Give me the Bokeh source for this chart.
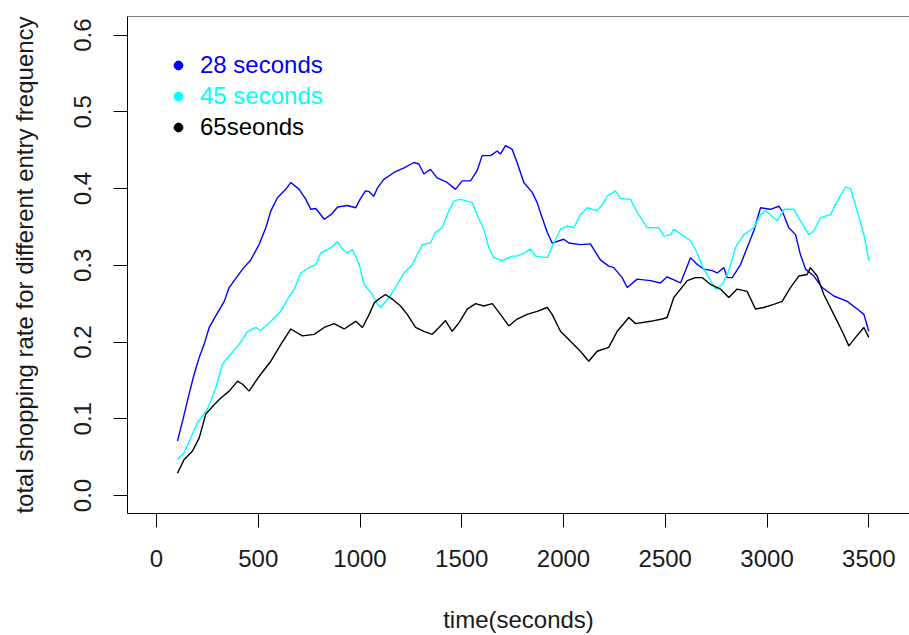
from bokeh.plotting import figure
from bokeh.models import (Range1d, FixedTicker, PrintfTickFormatter, Legend, LegendItem, Span,
                          ColumnDataSource)
from bokeh.embed import file_html
from bokeh.resources import INLINE

# ---- data ----
x_ticks = [0, 500, 1000, 1500, 2000, 2500, 3000, 3500]
y_ticks = [0.0, 0.1, 0.2, 0.3, 0.4, 0.5, 0.6]

legend_labels = ["28 seconds", "45 seconds", "65seonds"]
colors = ["#0000FF", "#00FFFF", "#000000"]

t28 = [103, 128, 160, 185, 210, 234, 259, 291, 333, 357, 382, 423, 463, 504, 537, 562, 594, 635, 660,
       701, 734, 758, 783, 824, 857, 890, 938, 979, 1000, 1027, 1045, 1068, 1086, 1117, 1167, 1216,
       1265, 1289, 1314, 1346, 1379, 1428, 1469, 1502, 1543, 1575, 1600, 1641, 1674, 1690, 1715, 1748,
       1772, 1805, 1846, 1870, 1895, 1920, 1944, 2001, 2026, 2083, 2132, 2181, 2222, 2247, 2288, 2313,
       2362, 2427, 2476, 2509, 2575, 2599, 2624, 2657, 2690, 2731, 2755, 2788, 2804, 2829, 2870, 2902,
       2935, 2968, 3017, 3058, 3074, 3107, 3140, 3164, 3189, 3230, 3271, 3328, 3394, 3443, 3476, 3500]
v28 = [0.071, 0.097, 0.132, 0.158, 0.180, 0.197, 0.219, 0.234, 0.253, 0.271, 0.280, 0.295, 0.307, 0.327,
       0.349, 0.371, 0.388, 0.399, 0.408, 0.399, 0.386, 0.373, 0.374, 0.360, 0.366, 0.376, 0.378, 0.375,
       0.386, 0.397, 0.396, 0.390, 0.401, 0.412, 0.421, 0.427, 0.434, 0.432, 0.419, 0.425, 0.414, 0.408,
       0.399, 0.410, 0.410, 0.423, 0.443, 0.443, 0.449, 0.445, 0.456, 0.451, 0.434, 0.408, 0.395, 0.382,
       0.362, 0.343, 0.329, 0.334, 0.329, 0.327, 0.328, 0.307, 0.299, 0.297, 0.284, 0.271, 0.282, 0.280,
       0.277, 0.285, 0.277, 0.293, 0.310, 0.301, 0.295, 0.293, 0.290, 0.297, 0.284, 0.284, 0.301, 0.323,
       0.345, 0.375, 0.373, 0.377, 0.371, 0.349, 0.340, 0.314, 0.295, 0.286, 0.271, 0.260, 0.253, 0.243,
       0.236, 0.214]

t45 = [103, 136, 168, 201, 250, 291, 324, 365, 406, 447, 488, 512, 562, 611, 644, 677, 709, 750, 783,
       807, 857, 889, 914, 938, 963, 996, 1020, 1061, 1086, 1101, 1142, 1174, 1216, 1257, 1306, 1346,
       1371, 1404, 1428, 1461, 1494, 1551, 1575, 1608, 1633, 1657, 1698, 1748, 1772, 1805, 1838, 1862,
       1920, 1952, 1985, 2018, 2051, 2083, 2116, 2165, 2198, 2214, 2255, 2280, 2329, 2362, 2411, 2468,
       2493, 2526, 2542, 2591, 2624, 2657, 2681, 2714, 2747, 2780, 2812, 2845, 2886, 2935, 2968, 2993,
       3050, 3083, 3132, 3164, 3205, 3230, 3263, 3312, 3345, 3386, 3410, 3443, 3476, 3500]
v45 = [0.047, 0.056, 0.075, 0.095, 0.112, 0.140, 0.171, 0.184, 0.197, 0.214, 0.219, 0.215, 0.227, 0.240,
       0.256, 0.269, 0.290, 0.297, 0.301, 0.316, 0.323, 0.331, 0.321, 0.316, 0.321, 0.301, 0.275, 0.262,
       0.249, 0.245, 0.258, 0.271, 0.290, 0.301, 0.327, 0.329, 0.343, 0.349, 0.366, 0.384, 0.386, 0.382,
       0.366, 0.347, 0.323, 0.310, 0.306, 0.312, 0.312, 0.316, 0.321, 0.312, 0.310, 0.329, 0.347, 0.351,
       0.349, 0.366, 0.375, 0.371, 0.382, 0.390, 0.397, 0.387, 0.386, 0.369, 0.349, 0.349, 0.338, 0.340,
       0.347, 0.338, 0.332, 0.316, 0.299, 0.284, 0.269, 0.275, 0.293, 0.323, 0.340, 0.349, 0.366, 0.371,
       0.358, 0.373, 0.373, 0.358, 0.340, 0.345, 0.362, 0.366, 0.384, 0.402, 0.400, 0.371, 0.340, 0.306]

t65 = [103, 136, 177, 210, 242, 275, 316, 357, 398, 423, 455, 488, 512, 562, 611, 660, 717, 775, 824,
       873, 922, 979, 1012, 1045, 1070, 1092, 1125, 1158, 1199, 1232, 1273, 1314, 1355, 1388, 1420,
       1453, 1486, 1527, 1568, 1608, 1650, 1690, 1731, 1772, 1821, 1870, 1920, 1944, 1985, 2034, 2083,
       2124, 2165, 2222, 2264, 2321, 2354, 2427, 2485, 2509, 2542, 2575, 2608, 2648, 2681, 2722, 2771,
       2812, 2853, 2902, 2943, 2984, 3033, 3074, 3115, 3156, 3197, 3213, 3246, 3279, 3328, 3369, 3402,
       3435, 3476, 3500]
v65 = [0.029, 0.047, 0.058, 0.075, 0.106, 0.116, 0.127, 0.136, 0.149, 0.145, 0.136, 0.149, 0.158, 0.175,
       0.197, 0.217, 0.208, 0.210, 0.219, 0.224, 0.217, 0.227, 0.219, 0.236, 0.251, 0.256, 0.262, 0.256,
       0.247, 0.236, 0.219, 0.214, 0.210, 0.219, 0.228, 0.214, 0.225, 0.243, 0.250, 0.247, 0.250, 0.236,
       0.221, 0.230, 0.236, 0.240, 0.245, 0.236, 0.214, 0.201, 0.188, 0.175, 0.188, 0.193, 0.214, 0.232,
       0.224, 0.227, 0.230, 0.232, 0.258, 0.269, 0.280, 0.284, 0.284, 0.275, 0.269, 0.258, 0.269, 0.266,
       0.243, 0.245, 0.249, 0.253, 0.271, 0.286, 0.288, 0.297, 0.286, 0.262, 0.236, 0.214, 0.195, 0.206,
       0.219, 0.206]

series_t = [t28, t45, t65]
series_v = [v28, v45, v65]

FONT = "Liberation Sans"
FS = "24px"

x_start, x_end = -142.5, 3700
y_start, y_end = -0.0235, 0.6243

p = figure(width=909, height=635, output_backend="svg", toolbar_location=None,
           x_range=Range1d(x_start, x_end), y_range=Range1d(y_start, y_end),
           min_border_left=127, min_border_right=0, min_border_top=16, min_border_bottom=122)
p.xgrid.visible = False
p.ygrid.visible = False
p.outline_line_color = None
p.background_fill_color = "white"
p.border_fill_color = "white"

for t, v, c in zip(series_t, series_v, colors):
    p.line(t, v, line_color=c, line_width=1.4)

p.xaxis.ticker = FixedTicker(ticks=x_ticks)
p.yaxis.ticker = FixedTicker(ticks=y_ticks)
p.yaxis.formatter = PrintfTickFormatter(format="%.1f")
p.yaxis.major_label_orientation = "vertical"
p.xaxis.axis_label = "time(seconds)"
p.yaxis.axis_label = "total shopping rate for different entry frequency"

for ax in (p.xaxis[0], p.yaxis[0]):
    ax.axis_line_color = "black"
    ax.axis_line_width = 1
    ax.major_tick_line_color = "black"
    ax.major_tick_out = 14
    ax.major_tick_in = 0
    ax.minor_tick_line_color = None
    ax.major_label_text_font = FONT
    ax.major_label_text_font_size = FS
    ax.major_label_text_color = "#1a1a1a"
    ax.axis_label_text_font = FONT
    ax.axis_label_text_font_size = FS
    ax.axis_label_text_font_style = "normal"
    ax.axis_label_text_color = "#1a1a1a"

p.xaxis.major_label_standoff = 22
p.xaxis.axis_label_standoff = 36
p.yaxis.major_label_standoff = 22
p.yaxis.axis_label_standoff = 34

p.add_layout(Span(location=y_end, dimension="width", line_color="black", line_width=1))

# legend: a hidden marker renderer per series supplies the legend dot
for i, (lab, col, t, v) in enumerate(zip(legend_labels, colors, series_t, series_v)):
    src = ColumnDataSource(data=dict(x=t, y=v))
    r = p.scatter("x", "y", source=src, color=col, size=9)
    r.visible = False
    leg = Legend(items=[LegendItem(label=lab, renderers=[r])],
                 location=(40, 434 - 31 * i),
                 border_line_color=None, background_fill_alpha=0,
                 inactive_fill_alpha=0,
                 padding=0, margin=0, spacing=0,
                 glyph_width=22, glyph_height=22, label_standoff=11,
                 label_text_font=FONT, label_text_font_size=FS, label_text_color=col)
    p.add_layout(leg)

open("out.html", "w").write(file_html(p, INLINE))
